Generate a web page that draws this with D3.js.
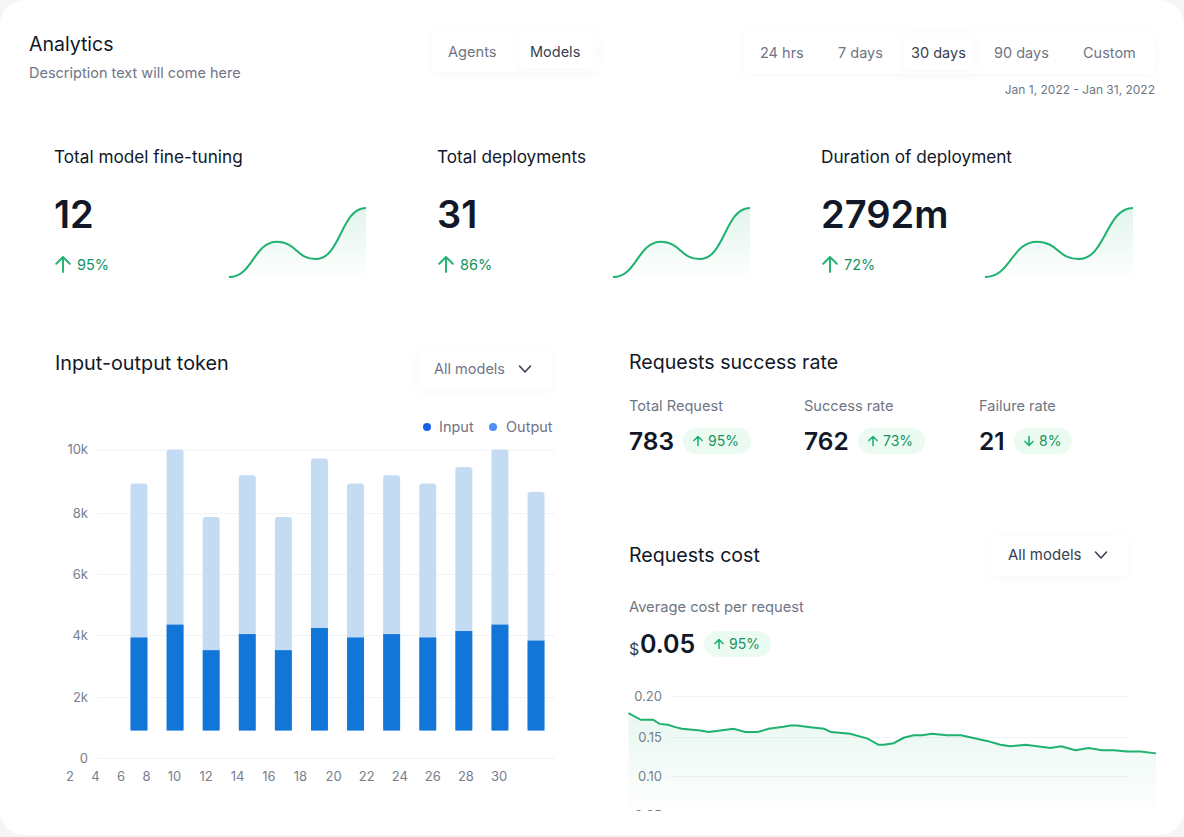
<!DOCTYPE html>
<html>
<head>
<meta charset="utf-8">
<script src="https://cdn.jsdelivr.net/npm/d3@7"></script>
<style>
  body { margin: 0; background: #f4f5f7; font-family: Inter, sans-serif; }
  svg { display: block; }
  text { font-family: Inter, sans-serif; }
  .axis text { fill: #787e8c; font-size: 13px; font-family: Inter, sans-serif; }
  .axis .domain { display: none; }
  .grid-y line { stroke: #f1f3f6; }
  .box { fill: #fff; filter: drop-shadow(0 2px 4px rgba(30, 50, 90, 0.035)); }
</style>
</head>
<body>
<svg id="canvas"></svg>
<script>
// KPI cards
const kpiTitles = ["Total model fine-tuning", "Total deployments", "Duration of deployment"];
const kpiValues = ["12", "31", "2792m"];
const kpiDeltas = ["95%", "86%", "72%"];
const kpiLefts = [54, 437, 821];
const sparkRanges = [[229, 366], [613, 750], [985, 1133]];
const sparkX = [0, 48, 86, 136];
const sparkValues = [0, 51, 26, 100];

// Input-output token bars
const days = ["d1", "d2", "d3", "d4", "d5", "d6", "d7", "d8", "d9", "d10", "d11", "d12"];
const barBase = 900;
const inputTops = [3920, 4340, 3510, 4030, 3510, 4230, 3920, 4030, 3920, 4130, 4340, 3820];
const outputTops = [8930, 10000, 7870, 9190, 7870, 9720, 8930, 9190, 8930, 9450, 10000, 8660];
const tokenTicks = [0, 2000, 4000, 6000, 8000, 10000];
const dayTicks = [2, 4, 6, 8, 10, 12, 14, 16, 18, 20, 22, 24, 26, 28, 30];

// Requests
const requestLabels = ["Total Request", "Success rate", "Failure rate"];
const requestValues = ["783", "762", "21"];
const requestDeltas = ["95%", "73%", "8%"];
const requestUp = [true, true, false];

// Requests cost line
const costDays = [1, 1.7, 2.4, 2.76, 3.24, 3.66, 4.04, 5.08, 5.55, 6.22, 6.97, 7.64, 8.34, 8.97, 9.82, 10.2, 10.58, 11.34, 12.13, 12.51, 13.61, 14.6, 15.22, 15.51, 16.08, 16.65, 17.22, 17.69, 18.26, 19.12, 19.91, 21.39, 22.15, 22.72, 23.57, 25, 25.6, 26.42, 27.17, 27.93, 28.6, 29.36, 30.12, 31];
const costValues = [.179, .171, .171, .166, .165, .162, .160, .158, .156, .158, .160, .156, .156, .160, .1625, .164, .164, .162, .160, .156, .154, .148, .140, .140, .142, .149, .152, .152, .154, .152, .152, .145, .140, .138, .140, .136, .138, .133, .136, .133, .133, .1315, .1315, .129];
const costTicks = [0.05, 0.10, 0.15, 0.20];

const width = 1184, height = 837;
const ink = "#111827", grey = "#6f7585", green = "#1fb26f", greenText = "#15935f";

const svg = d3.select("#canvas").attr("width", width).attr("height", height);
const defs = svg.append("defs");

function fade(id, top, bottom) {
  const g = defs.append("linearGradient").attr("id", id).attr("x1", 0).attr("x2", 0).attr("y1", 0).attr("y2", 1);
  g.append("stop").attr("offset", "0%").attr("stop-color", green).attr("stop-opacity", top);
  g.append("stop").attr("offset", "100%").attr("stop-color", green).attr("stop-opacity", bottom);
}
fade("sparkFill", 0.13, 0);
fade("costFill", 0.1, 0.005);

defs.append("clipPath").attr("id", "costClip").append("rect")
  .attr("x", 600).attr("y", 680).attr("width", 584).attr("height", 131);

// page card
svg.append("rect").attr("width", width).attr("height", 835).attr("rx", 24).attr("fill", "#fff");

function label(x, y, str, size, color, weight, anchor) {
  return svg.append("text").attr("x", x).attr("y", y).text(str)
    .attr("font-size", size).attr("fill", color)
    .attr("font-weight", weight || 400).attr("text-anchor", anchor || "start");
}

function box(x, y, w, h, r) {
  svg.append("rect").attr("class", "box").attr("x", x).attr("y", y)
    .attr("width", w).attr("height", h).attr("rx", r || 6);
}

// arrow icon, s is its half height
function arrow(cx, cy, s, up, sw) {
  const dir = up ? 1 : -1;
  const head = s * 0.9;
  svg.append("path")
    .attr("d", `M${cx},${cy + dir * s}V${cy - dir * s}M${cx - head},${cy - dir * (s - head)}L${cx},${cy - dir * s}L${cx + head},${cy - dir * (s - head)}`)
    .attr("fill", "none").attr("stroke", green).attr("stroke-width", sw)
    .attr("stroke-linecap", "round").attr("stroke-linejoin", "round");
}

function chevron(cx, cy, color) {
  svg.append("path").attr("d", `M${cx - 5.5},${cy - 3}L${cx},${cy + 3}L${cx + 5.5},${cy - 3}`)
    .attr("fill", "none").attr("stroke", color).attr("stroke-width", 1.6)
    .attr("stroke-linecap", "round").attr("stroke-linejoin", "round");
}

function pill(x, y, w, delta, up) {
  svg.append("rect").attr("x", x).attr("y", y).attr("width", w).attr("height", 26).attr("rx", 13).attr("fill", "#ecfbf2");
  arrow(x + 15, y + 13, 4.5, up, 1.6);
  label(x + 25, y + 18, delta, 14, greenText);
}

// header
label(29, 51, "Analytics", 19.5, ink);
label(29, 78, "Description text will come here", 14.5, grey);

box(432, 29, 165, 43, 6);
box(519, 32, 74, 36, 6);
label(448, 56.5, "Agents", 14.6, grey);
label(530, 56.5, "Models", 14.5, "#374151");

box(744, 31, 411, 43, 6);
box(904, 34, 70, 36, 6);
const rangeTabs = ["24 hrs", "7 days", "30 days", "90 days", "Custom"];
const rangeLefts = [760, 838, 911, 994, 1083];
rangeTabs.forEach((t, i) => label(rangeLefts[i], 58, t, 14.5, i === 2 ? "#374151" : grey));
label(1155, 94, "Jan 1, 2022 - Jan 31, 2022", 12, grey, 400, "end");

// KPI cards with sparklines
kpiTitles.forEach((t, i) => {
  const left = kpiLefts[i];
  label(left, 163, t, 17.2, ink);
  label(left, 228, kpiValues[i], 38, ink, 600);
  arrow(left + 9, 264.5, 7.5, true, 1.9);
  label(left + 23, 270, kpiDeltas[i], 14.5, greenText);

  const x = d3.scaleLinear().domain([0, 136]).range(sparkRanges[i]);
  const y = d3.scaleLinear().domain([0, 100]).range([277, 208]);
  const pts = sparkX.map((d, j) => [d, sparkValues[j]]);
  svg.append("path").datum(pts)
    .attr("fill", "url(#sparkFill)")
    .attr("d", d3.area().x(d => x(d[0])).y0(y(-5)).y1(d => y(d[1])).curve(d3.curveBumpX));
  svg.append("path").datum(pts)
    .attr("fill", "none").attr("stroke", green).attr("stroke-width", 2)
    .attr("d", d3.line().x(d => x(d[0])).y(d => y(d[1])).curve(d3.curveBumpX));
});

// Input-output token
label(55, 370, "Input-output token", 19.8, ink);
box(418, 350, 134, 39, 6);
label(434, 374, "All models", 14.5, grey);
chevron(525, 369, "#374151");

svg.append("circle").attr("cx", 427).attr("cy", 427).attr("r", 4).attr("fill", "#1a5fe8");
label(439, 432, "Input", 14.5, grey);
svg.append("circle").attr("cx", 493).attr("cy", 427).attr("r", 4).attr("fill", "#4f8ef5");
label(506, 432, "Output", 14.5, grey);

const tokenY = d3.scaleLinear().domain(tokenTicks).range([758, 697, 635, 574, 513, 449.5]);
const tokenX = d3.scaleBand().domain(days).range([130.5, 544.5]).paddingInner(0.53).paddingOuter(0);
const dayX = d3.scaleLinear().domain([2, 8, 10, 18, 30]).range([69.5, 146, 174, 300, 498.5]);

svg.append("g").attr("class", "axis grid-y").attr("transform", "translate(97,0)")
  .call(d3.axisLeft(tokenY).tickValues(tokenTicks).tickSize(-458).tickPadding(9)
    .tickFormat(d => d ? d / 1000 + "k" : "0"));

svg.append("g").attr("class", "axis").attr("transform", "translate(0,768)")
  .call(d3.axisBottom(dayX).tickValues(dayTicks).tickSize(0).tickPadding(4))
  .call(g => g.selectAll("line").remove());

svg.append("g").selectAll("rect").data(days).join("rect")
  .attr("x", d => tokenX(d)).attr("width", tokenX.bandwidth())
  .attr("y", (d, i) => tokenY(outputTops[i]))
  .attr("height", (d, i) => tokenY(barBase) - tokenY(outputTops[i]))
  .attr("rx", 3).attr("fill", "#c3dcf3");

svg.append("g").selectAll("rect").data(days).join("rect")
  .attr("x", d => tokenX(d)).attr("width", tokenX.bandwidth())
  .attr("y", (d, i) => tokenY(inputTops[i]))
  .attr("height", (d, i) => tokenY(barBase) - tokenY(inputTops[i]))
  .attr("fill", "#1276d8");

// Requests success rate
label(629, 369, "Requests success rate", 19.6, ink);
const requestLefts = [629, 804, 979];
const pillLefts = [683, 858, 1014];
const pillWidths = [68, 67, 58];
requestLabels.forEach((t, i) => {
  label(requestLefts[i], 411, t, 14.6, grey);
  label(requestLefts[i], 450, requestValues[i], 24.5, ink, 600);
  pill(pillLefts[i], 428, pillWidths[i], requestDeltas[i], requestUp[i]);
});

// Requests cost
label(629, 562, "Requests cost", 19.6, ink);
box(991, 536, 137, 40, 6);
label(1008, 560, "All models", 15, "#374151");
chevron(1101, 555, "#374151");
label(629, 612, "Average cost per request", 14.7, grey);
label(629, 655, "$", 16, "#374151");
label(640, 653, "0.05", 25, ink, 600);
pill(704, 631, 67, "95%", true);

const costY = d3.scaleLinear().domain([0.05, 0.10, 0.15, 0.20]).range([815, 776, 737, 696]);
const costX = d3.scaleLinear().domain([1, 31]).range([628.5, 1156]);
const costPts = costDays.map((d, i) => [d, costValues[i]]);
const costG = svg.append("g").attr("clip-path", "url(#costClip)");

costG.append("g").attr("class", "axis grid-y").attr("transform", "translate(670,0)")
  .call(d3.axisLeft(costY).tickValues(costTicks).tickSize(-458).tickPadding(8).tickFormat(d3.format(".2f")));

costG.append("path").datum(costPts).attr("fill", "url(#costFill)")
  .attr("d", d3.area().x(d => costX(d[0])).y0(811).y1(d => costY(d[1])));
costG.append("path").datum(costPts).attr("fill", "none")
  .attr("stroke", green).attr("stroke-width", 2)
  .attr("d", d3.line().x(d => costX(d[0])).y(d => costY(d[1])));
</script>
</body>
</html>
